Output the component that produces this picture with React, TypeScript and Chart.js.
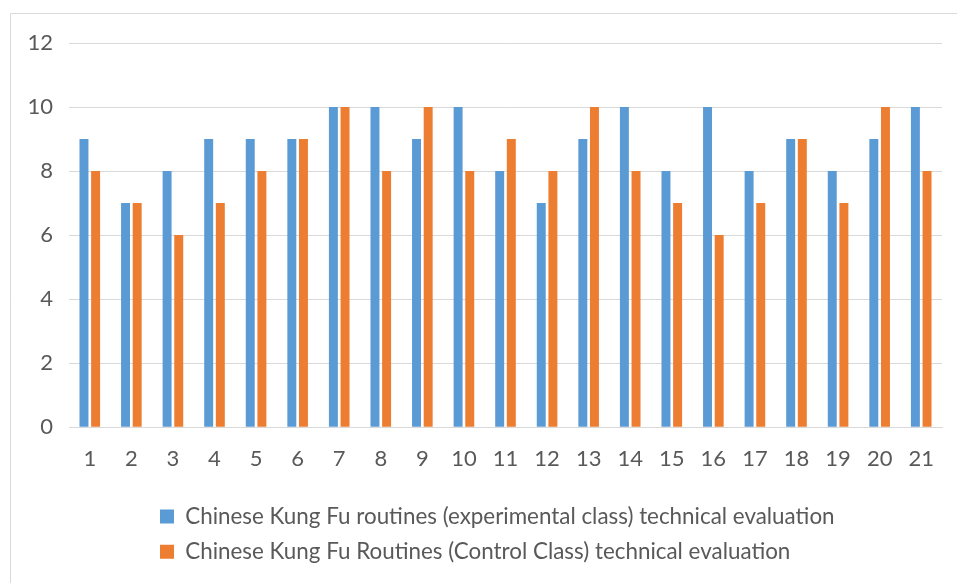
import React, { useEffect, useRef } from "react";
import { Chart, registerables } from "chart.js";

Chart.register(...registerables);

const categories = ["1","2","3","4","5","6","7","8","9","10","11","12","13","14","15","16","17","18","19","20","21"];
const experimentalScores = [9, 7, 8, 9, 9, 9, 10, 10, 9, 10, 8, 7, 9, 10, 8, 10, 8, 9, 8, 9, 10];
const controlScores = [8, 7, 6, 7, 8, 9, 10, 8, 10, 8, 9, 8, 10, 8, 7, 6, 7, 9, 7, 10, 8];
const seriesLabels = [
  "Chinese Kung Fu routines (experimental class) technical evaluation",
  "Chinese Kung Fu Routines (Control Class) technical evaluation",
];
const yMax = 12;
const yStep = 2;

const FONT = "Lato, 'Open Sans', sans-serif";
const TEXT = "#595959";
const GRID = "#d9d9d9";

const framePlugin = {
  id: "frame",
  afterLayout(chart: any) {
    if (chart.legend) chart.legend.left = 147;
  },
  beforeDraw(chart: any) {
    const ctx = chart.ctx;
    ctx.save();
    ctx.fillStyle = "#ffffff";
    ctx.fillRect(0, 0, chart.width, chart.height);
    ctx.strokeStyle = GRID;
    ctx.lineWidth = 1;
    ctx.beginPath();
    ctx.moveTo(10.5, chart.height);
    ctx.lineTo(10.5, 13.5);
    ctx.lineTo(chart.width, 13.5);
    ctx.stroke();
    ctx.restore();
  },
};

export default function App() {
  const ref = useRef<HTMLCanvasElement | null>(null);
  useEffect(() => {
    if (!ref.current) return;
    const chart = new Chart(ref.current, {
      type: "bar",
      data: {
        labels: categories,
        datasets: [
          {
            label: seriesLabels[0],
            data: experimentalScores,
            backgroundColor: "#5B9BD5",
            categoryPercentage: 0.56,
            barPercentage: 0.77,
          },
          {
            label: seriesLabels[1],
            data: controlScores,
            backgroundColor: "#ED7D31",
            categoryPercentage: 0.56,
            barPercentage: 0.77,
          },
        ],
      },
      options: {
        responsive: false,
        animation: false,
        devicePixelRatio: 1,
        layout: { padding: { left: 0, right: 15, top: 43, bottom: 10 } },
        plugins: {
          legend: {
            position: "bottom",
            align: "start",
            labels: {
              boxWidth: 14,
              boxHeight: 14,
              padding: 13,
              color: TEXT,
              font: { family: FONT, size: 22.4 },
            },
          },
          tooltip: { enabled: false },
        },
        scales: {
          x: {
            grid: { display: false, drawTicks: false },
            border: { display: true, color: GRID },
            ticks: { color: TEXT, font: { family: FONT, size: 22 }, padding: 19 },
            afterFit: (s: any) => {
              s.height = 65;
            },
          },
          y: {
            min: 0,
            max: yMax,
            ticks: { stepSize: yStep, color: TEXT, font: { family: FONT, size: 22 }, padding: 16 },
            grid: { color: GRID, drawTicks: false },
            border: { display: false },
            afterFit: (s: any) => {
              s.width = 69;
            },
          },
        },
      },
      plugins: [framePlugin],
    });
    return () => chart.destroy();
  }, []);
  return (
    <div style={{ position: "fixed", left: 0, top: 0, width: 957, height: 583 }}>
      <canvas ref={ref} width={957} height={583} style={{ display: "block" }} />
    </div>
  );
}
